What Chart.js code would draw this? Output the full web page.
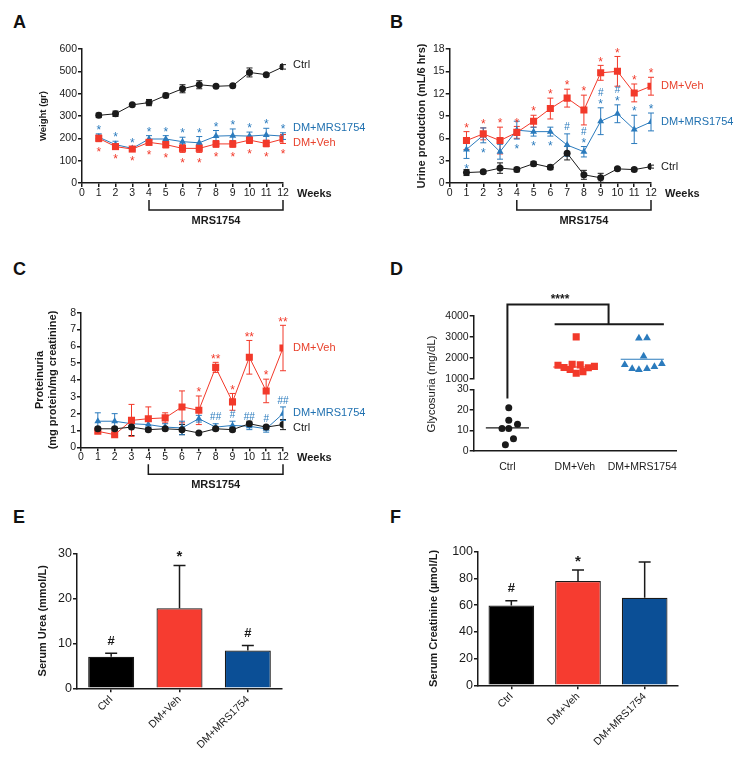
<!DOCTYPE html>
<html>
<head>
<meta charset="utf-8">
<script src="https://cdn.jsdelivr.net/npm/chart.js@4.4.1/dist/chart.umd.min.js"></script>
<style>
  body { margin: 0; background: #fff; width: 743px; height: 757px; position: relative; overflow: hidden; font-family: "Liberation Sans", Arial, sans-serif; }
  .panel { position: absolute; }
  .letter { position: absolute; font-weight: bold; font-size: 18px; line-height: 18px; color: #111; }
</style>
</head>
<body>
<div class="letter" style="left:13px;top:13px">A</div>
<div class="letter" style="left:390px;top:13px">B</div>
<div class="letter" style="left:13px;top:260px">C</div>
<div class="letter" style="left:390px;top:260px">D</div>
<div class="letter" style="left:13px;top:508px">E</div>
<div class="letter" style="left:390px;top:508px">F</div>

<div class="panel" style="left:0;top:0;width:372px;height:250px"><canvas id="chartA"></canvas></div>
<div class="panel" style="left:372px;top:0;width:371px;height:250px"><canvas id="chartB"></canvas></div>
<div class="panel" style="left:0;top:250px;width:372px;height:250px"><canvas id="chartC"></canvas></div>
<div class="panel" style="left:372px;top:250px;width:371px;height:250px"><canvas id="chartD"></canvas></div>
<div class="panel" style="left:0;top:500px;width:372px;height:257px"><canvas id="chartE"></canvas></div>
<div class="panel" style="left:372px;top:500px;width:371px;height:257px"><canvas id="chartF"></canvas></div>

<script>
// ---- data ----
const weeks = [1, 2, 3, 4, 5, 6, 7, 8, 9, 10, 11, 12];
const groups = ["Ctrl", "DM+Veh", "DM+MRS1754"];

// A: body weight (gr)
const weightCtrl = [303, 310, 350, 360, 392, 422, 440, 433, 436, 495, 485, 520];
const weightCtrlErr = [10, 12, 5, 14, 10, 18, 18, 5, 5, 20, 5, 10];
const weightVeh = [200, 163, 152, 182, 172, 155, 155, 175, 175, 192, 177, 197];
const weightVehErr = [15, 12, 8, 12, 15, 18, 18, 15, 15, 15, 15, 20];
const weightMrs = [205, 172, 155, 197, 197, 185, 180, 210, 212, 210, 215, 210];
const weightMrsErr = [15, 15, 5, 15, 15, 20, 28, 25, 30, 18, 30, 15];
const weightVehSig = ["*", "*", "*", "*", "*", "*", "*", "*", "*", "*", "*", "*"];
const weightMrsSig = ["*", "*", "*", "*", "*", "*", "*", "*", "*", "*", "*", "*"];

// B: urine production (mL/6 hrs)
const urineCtrl = [1.4, 1.5, 2.0, 1.8, 2.6, 2.1, 4.0, 1.1, 0.7, 1.9, 1.8, 2.2];
const urineCtrlErr = [0.4, 0.2, 0.7, 0.3, 0.3, 0.3, 0.9, 0.6, 0.6, 0.2, 0.2, 0.2];
const urineVeh = [5.7, 6.6, 5.7, 6.8, 8.3, 10.0, 11.4, 9.8, 14.8, 15.0, 12.1, 13.0];
const urineVehErr = [1.2, 0.8, 1.8, 0.8, 0.8, 1.4, 1.2, 2.0, 1.0, 2.0, 1.2, 1.2];
const urineMrs = [4.5, 6.4, 4.2, 7.1, 6.9, 6.9, 5.1, 4.2, 8.3, 9.3, 7.2, 8.2];
const urineMrsErr = [1.2, 1.0, 1.0, 1.2, 0.6, 0.6, 1.5, 0.7, 1.8, 1.2, 1.9, 1.2];
const urineVehSig = ["*", "*", "*", "*", "*", "*", "*", "*", "*", "*", "*", "*"];
const urineMrsSigAbove = ["", "", "", "", "", "", "#", "#\n*", "#\n*", "#\n*", "*", "*"];
const urineMrsSigBelow = ["*", "*", "", "*", "*", "*", "", "", "", "", "", ""];

// C: proteinuria (mg protein/mg creatinine)
const protCtrl = [1.1, 1.1, 1.2, 1.05, 1.1, 1.05, 0.85, 1.1, 1.05, 1.4, 1.2, 1.35];
const protCtrlErr = [0.1, 0.1, 0.5, 0.1, 0.1, 0.3, 0.05, 0.1, 0.1, 0.15, 0.1, 0.3];
const protVeh = [0.95, 0.75, 1.6, 1.7, 1.75, 2.4, 2.2, 4.75, 2.7, 5.35, 3.35, 5.9];
const protVehErr = [0.1, 0.1, 0.95, 0.7, 0.3, 0.95, 0.85, 0.3, 0.5, 1.0, 0.7, 1.35];
const protMrs = [1.55, 1.55, 1.4, 1.35, 1.2, 1.15, 1.7, 1.2, 1.3, 1.25, 1.1, 2.0];
const protMrsErr = [0.5, 0.45, 0.2, 0.2, 0.2, 0.4, 0.2, 0.2, 0.25, 0.2, 0.2, 0.4];
const protVehSig = ["", "", "", "", "", "", "*", "**", "*", "**", "*", "**"];
const protMrsSig = ["", "", "", "", "", "", "", "##", "#", "##", "#", "##"];

// D: glycosuria (mg/dL), individual animals (x = group position with jitter)
const glyCtrlX = [1.02, 1.02, 0.92, 1.02, 1.15, 1.09, 0.97];
const glyCtrl = [21, 15, 11, 11, 13, 6, 3];
const glyVehX = [1.75, 1.84, 1.93, 1.96, 2.02, 2.02, 2.08, 2.12, 2.20, 2.29];
const glyVeh = [1640, 1540, 1440, 1690, 1260, 3000, 1660, 1340, 1520, 1590];
const glyMrsX = [2.95, 3.07, 3.02, 2.74, 2.85, 2.95, 3.07, 3.18, 3.29];
const glyMrs = [2930, 2950, 2080, 1670, 1475, 1430, 1475, 1570, 1720];
const glyMedian = [11.2, 1560, 1930];

// E, F: serum urea (mmol/L) and creatinine (µmol/L)
const urea = [7.0, 17.8, 8.4];
const ureaErr = [0.8, 9.5, 1.1];
const ureaSig = ["#", "*", "#"];
const creat = [59.7, 78.0, 65.5];
const creatErr = [3.6, 8.3, 26.8];
const creatSig = ["#", "*", ""];

// ---- styles ----
const INK = "#1a1a1a";
const RED = "#f2392a";
const BLUE = "#2b7bbd";
const RED_TXT = "#e8412c";
const BLUE_TXT = "#1f70b0";
const BAR_RED = "#f63c30";
const BAR_BLUE = "#0b4f96";
const FONT = '"Liberation Sans", Arial, sans-serif';

Chart.defaults.font.family = FONT;
Chart.defaults.color = INK;
Chart.defaults.animation = false;
Chart.defaults.plugins.legend.display = false;
Chart.defaults.plugins.tooltip.enabled = false;

function drawSig(ctx, x, edge, text, dir, color, gap, sizes) {
   const lines = text.split("\n");
   const order = dir < 0 ? lines.slice().reverse() : lines;
   let y = edge + dir * gap;
   order.forEach((line) => {
      const hash = line.includes("#");
      const size = hash ? sizes[1] : sizes[0];
      ctx.font = (sizes[2] ? "bold " : "") + size + "px " + FONT;
      ctx.fillStyle = color;
      ctx.textAlign = "center";
      ctx.textBaseline = "alphabetic";
      ctx.fillText(line, x, y + (hash ? 0.36 : 0.6) * size);
      y += dir * 8.5;
   });
}

function drawErrors(chart, upOnlyPass) {
   const ctx = chart.ctx;
   chart.data.datasets.forEach((ds, di) => {
      if (!ds.errors || !!ds.errorUpOnly !== upOnlyPass) return;
      const meta = chart.getDatasetMeta(di);
      const ys = chart.scales[meta.yAxisID];
      const cap = ds.errorCap || 3;
      ctx.save();
      ctx.strokeStyle = ds.errorColor || ds.borderColor;
      ctx.lineWidth = ds.errorWidth || 1;
      meta.data.forEach((el, i) => {
         const e = ds.errors[i];
         if (!e) return;
         const v = meta.controller.getParsed(i).y;
         const x = el.x;
         const top = ys.getPixelForValue(v + e);
         const bot = ds.errorUpOnly ? ys.getPixelForValue(v) : ys.getPixelForValue(v - e);
         ctx.beginPath();
         ctx.moveTo(x, top);
         ctx.lineTo(x, bot);
         ctx.moveTo(x - cap, top);
         ctx.lineTo(x + cap, top);
         if (!ds.errorUpOnly) {
            ctx.moveTo(x - cap, bot);
            ctx.lineTo(x + cap, bot);
         }
         ctx.stroke();
      });
      ctx.restore();
   });
}

// error bars, significance marks, series labels, brackets
const panelMarks = {
   id: "panelMarks",
   beforeDatasetsDraw(chart) {
      drawErrors(chart, false);
   },
   afterDatasetsDraw(chart, args, opts) {
      const ctx = chart.ctx;
      drawErrors(chart, true);

      const sigGap = opts.sigGap || 7;
      const sigSizes = opts.sigSizes || [12, 10, false];
      chart.data.datasets.forEach((ds, di) => {
         if (!ds.sigAbove && !ds.sigBelow) return;
         const meta = chart.getDatasetMeta(di);
         const ys = chart.scales[meta.yAxisID];
         const color = ds.sigColor || ds.borderColor;
         meta.data.forEach((el, i) => {
            const v = meta.controller.getParsed(i).y;
            const e = ds.errors ? ds.errors[i] : 0;
            if (ds.sigAbove && ds.sigAbove[i]) {
               drawSig(ctx, el.x, ys.getPixelForValue(v + e), ds.sigAbove[i], -1, color, sigGap, sigSizes);
            }
            if (ds.sigBelow && ds.sigBelow[i]) {
               drawSig(ctx, el.x, ys.getPixelForValue(v - e), ds.sigBelow[i], 1, color, sigGap, sigSizes);
            }
         });
      });

      const xs = chart.scales.x;
      const yMain = chart.scales.y;
      if (opts.labels) {
         const lx = xs.getPixelForValue(xs.max) + 10;
         ctx.save();
         ctx.font = "11px " + FONT;
         ctx.textAlign = "left";
         ctx.textBaseline = "middle";
         opts.labels.forEach((l) => {
            ctx.fillStyle = l.color;
            ctx.fillText(l.text, lx, yMain.getPixelForValue(l.y));
         });
         ctx.restore();
      }

      if (opts.weeks) {
         const w = opts.weeks;
         const base = chart.chartArea.bottom;
         const x1 = xs.getPixelForValue(w.from);
         const x2 = xs.getPixelForValue(w.to);
         ctx.save();
         ctx.fillStyle = INK;
         ctx.strokeStyle = INK;
         ctx.font = "bold 11px " + FONT;
         ctx.textAlign = "left";
         ctx.textBaseline = "middle";
         ctx.fillText(w.title, xs.getPixelForValue(xs.max) + 14, base + 10.5);
         ctx.lineWidth = 1.5;
         ctx.beginPath();
         ctx.moveTo(x1, base + 17);
         ctx.lineTo(x1, base + 27);
         ctx.lineTo(x2, base + 27);
         ctx.lineTo(x2, base + 17);
         ctx.stroke();
         ctx.textAlign = "center";
         ctx.fillText(w.label, (x1 + x2) / 2, base + 38);
         ctx.restore();
      }

      if (opts.bracket) {
         const b = opts.bracket;
         const up = chart.scales.yUp;
         const low = chart.scales.y;
         const xa = xs.getPixelForValue(b.fromX);
         const xm = xs.getPixelForValue(b.midX);
         const yTop = up.getPixelForValue(b.topY);
         const yBar = up.getPixelForValue(b.barY);
         ctx.save();
         ctx.strokeStyle = INK;
         ctx.lineWidth = 2;
         ctx.beginPath();
         ctx.moveTo(xa, low.getPixelForValue(b.fromY));
         ctx.lineTo(xa, yTop);
         ctx.lineTo(xm, yTop);
         ctx.lineTo(xm, yBar);
         ctx.moveTo(xs.getPixelForValue(b.barFrom), yBar);
         ctx.lineTo(xs.getPixelForValue(b.barTo), yBar);
         ctx.stroke();
         ctx.fillStyle = INK;
         ctx.font = "bold 12px " + FONT;
         ctx.textAlign = "center";
         ctx.textBaseline = "alphabetic";
         ctx.fillText(b.text, xs.getPixelForValue(b.textX), up.getPixelForValue(b.textY) + 7);
         ctx.restore();
      }
   },
};
Chart.register(panelMarks);

function yAxis(min, max, step, width, title, titleSize, titlePad, tickSize, extra) {
   return Object.assign({
      type: "linear",
      position: "left",
      min: min,
      max: max,
      ticks: {
         stepSize: step,
         padding: 1,
         color: INK,
         autoSkip: false,
         font: { size: tickSize || 10.5 },
         callback: (v) => String(v),
      },
      grid: { drawOnChartArea: false, tickLength: 4, color: INK, lineWidth: 1.5 },
      border: { color: INK, width: 1.5 },
      title: {
         display: !!title,
         text: title,
         color: INK,
         font: { size: titleSize, weight: "bold" },
         padding: { top: titlePad, bottom: 0 },
      },
      afterFit: (s) => { s.width = width; },
   }, extra || {});
}

function weekAxis() {
   return {
      type: "linear",
      min: 0,
      max: 12,
      ticks: { stepSize: 1, padding: 0, color: INK, font: { size: 10.5 }, maxRotation: 0, autoSkip: false },
      grid: { drawOnChartArea: false, tickLength: 4, color: INK, lineWidth: 1.5 },
      border: { color: INK, width: 1.5 },
      afterFit: (s) => { s.height = 18; },
   };
}

function series(label, ys, errs, color, style, radius, extra) {
   return Object.assign({
      label: label,
      data: weeks.map((w, i) => ({ x: w, y: ys[i] })),
      errors: errs,
      borderColor: color,
      backgroundColor: color,
      borderWidth: 1,
      pointStyle: style,
      pointRadius: radius,
      pointHoverRadius: radius,
      pointBorderWidth: 0,
      tension: 0,
   }, extra || {});
}

function timeChart(id, padding, yOpts, sets, labels) {
   return new Chart(document.getElementById(id), {
      type: "line",
      data: { datasets: sets },
      options: {
         responsive: true,
         maintainAspectRatio: false,
         layout: { padding: padding },
         scales: { x: weekAxis(), y: yOpts },
         plugins: {
            panelMarks: {
               labels: labels,
               weeks: { title: "Weeks", from: 4, to: 12, label: "MRS1754" },
            },
         },
      },
   });
}

// ---- A ----
timeChart("chartA", { left: 30, right: 89, top: 49, bottom: 49 },
   yAxis(0, 600, 100, 52, "Weight (gr)", 9.5, 7.4),
   [
      series("Ctrl", weightCtrl, weightCtrlErr, INK, "circle", 3.5),
      series("DM+Veh", weightVeh, weightVehErr, RED, "rect", 5, { sigBelow: weightVehSig }),
      series("DM+MRS1754", weightMrs, weightMrsErr, BLUE, "triangle", 4, { sigAbove: weightMrsSig }),
   ],
   [
      { text: "Ctrl", color: INK, y: 528 },
      { text: "DM+MRS1754", color: BLUE_TXT, y: 246 },
      { text: "DM+Veh", color: RED_TXT, y: 178 },
   ]);

// ---- B ----
timeChart("chartB", { left: 36, right: 92, top: 49, bottom: 49 },
   yAxis(0, 18, 3, 41.7, "Urine production (mL/6 hrs)", 11, 7.4),
   [
      series("Ctrl", urineCtrl, urineCtrlErr, INK, "circle", 3.5),
      series("DM+Veh", urineVeh, urineVehErr, RED, "rect", 5, { sigAbove: urineVehSig }),
      series("DM+MRS1754", urineMrs, urineMrsErr, BLUE, "triangle", 4, { sigAbove: urineMrsSigAbove, sigBelow: urineMrsSigBelow }),
   ],
   [
      { text: "DM+Veh", color: RED_TXT, y: 13.0 },
      { text: "DM+MRS1754", color: BLUE_TXT, y: 8.2 },
      { text: "Ctrl", color: INK, y: 2.2 },
   ]);

// ---- C ----
timeChart("chartC", { left: 30, right: 89, top: 62.7, bottom: 34.7 },
   yAxis(0, 8, 1, 51, ["Proteinuria", "(mg protein/mg creatinine)"], 11, 3.4),
   [
      series("Ctrl", protCtrl, protCtrlErr, INK, "circle", 3.5),
      series("DM+Veh", protVeh, protVehErr, RED, "rect", 5, { sigAbove: protVehSig }),
      series("DM+MRS1754", protMrs, protMrsErr, BLUE, "triangle", 4, { sigAbove: protMrsSig }),
   ],
   [
      { text: "DM+Veh", color: RED_TXT, y: 5.9 },
      { text: "DM+MRS1754", color: BLUE_TXT, y: 2.04 },
      { text: "Ctrl", color: INK, y: 1.15 },
   ]);

// ---- D ----
function medianLine(center, value, color, axis) {
   return {
      data: [{ x: center - 0.32, y: value }, { x: center + 0.32, y: value }],
      showLine: true,
      borderColor: color,
      borderWidth: 1.2,
      pointRadius: 0,
      yAxisID: axis,
   };
}
function dots(xsArr, ysArr, color, style, radius, axis) {
   return {
      data: xsArr.map((x, i) => ({ x: x, y: ysArr[i] })),
      backgroundColor: color,
      borderColor: color,
      pointStyle: style,
      pointRadius: radius,
      pointHoverRadius: radius,
      pointBorderWidth: 0,
      yAxisID: axis,
   };
}
new Chart(document.getElementById("chartD"), {
   type: "scatter",
   data: {
      datasets: [
         dots(glyCtrlX, glyCtrl, INK, "circle", 3.5, "y"),
         dots(glyVehX, glyVeh, RED, "rect", 5, "yUp"),
         dots(glyMrsX, glyMrs, BLUE, "triangle", 4.5, "yUp"),
         medianLine(1, glyMedian[0], INK, "y"),
         medianLine(2, glyMedian[1], RED, "yUp"),
         medianLine(3, glyMedian[2], BLUE, "yUp"),
      ],
   },
   options: {
      responsive: true,
      maintainAspectRatio: false,
      layout: { padding: { left: 50, right: 67, top: 66, bottom: 25 } },
      scales: {
         x: {
            type: "linear",
            min: 0.5,
            max: 3.5,
            afterBuildTicks: (s) => { s.ticks = groups.map((g, i) => ({ value: i + 1 })); },
            ticks: {
               padding: 9.7,
               color: INK,
               font: { size: 10.5 },
               maxRotation: 0,
               autoSkip: false,
               callback: (v) => groups[Math.round(v) - 1] || "",
            },
            grid: { drawOnChartArea: false, drawTicks: false },
            border: { color: INK, width: 1.5 },
            afterFit: (s) => { s.height = 24; },
         },
         y: yAxis(0, 30, 10, 51.7, "", 11, 0, 10.5, { stack: "gly", stackWeight: 61.7 }),
         yGap: {
            type: "linear",
            position: "left",
            stack: "gly",
            stackWeight: 10.6,
            ticks: { display: false },
            grid: { display: false },
            border: { display: false },
            title: {
               display: true,
               text: "Glycosuria (mg/dL)",
               color: INK,
               font: { size: 11.5 },
               padding: { top: 3.4, bottom: 0 },
            },
            afterFit: (s) => { s.width = 51.7; },
         },
         yUp: yAxis(1000, 4000, 1000, 51.7, "", 11, 0, 10.5, { stack: "gly", stackWeight: 62.7 }),
      },
      plugins: {
         panelMarks: {
            bracket: {
               fromX: 1, fromY: 25.5, topY: 4550, midX: 2.5, barY: 3600,
               barFrom: 1.7, barTo: 3.32, text: "****", textX: 1.78, textY: 4950,
            },
         },
      },
   },
});

// ---- E, F ----
function barChart(id, padding, yOpts, values, errs, sig, barPct) {
   return new Chart(document.getElementById(id), {
      type: "bar",
      data: {
         labels: groups,
         datasets: [{
            data: values,
            errors: errs,
            errorUpOnly: true,
            errorCap: 6,
            errorWidth: 1.5,
            errorColor: INK,
            sigAbove: sig,
            sigColor: INK,
            backgroundColor: ["#000000", BAR_RED, BAR_BLUE],
            borderColor: INK,
            borderWidth: 1.2,
            barPercentage: barPct,
            categoryPercentage: 1,
         }],
      },
      options: {
         responsive: true,
         maintainAspectRatio: false,
         layout: { padding: padding },
         scales: {
            x: {
               ticks: { color: INK, font: { size: 10.5 }, minRotation: 45, maxRotation: 45, padding: 1, autoSkip: false },
               grid: { drawOnChartArea: false, offset: false, tickLength: 4, color: INK, lineWidth: 1.5 },
               border: { color: INK, width: 1.5 },
               afterFit: (s) => { s.height = 60; },
            },
            y: yOpts,
         },
         plugins: { panelMarks: { sigGap: 13, sigSizes: [15, 13, true] } },
      },
   });
}

barChart("chartE", { left: 25, right: 90, top: 53.3, bottom: 8.7 },
   yAxis(0, 30, 10, 52, "Serum Urea (mmol/L)", 11, 11.1, 12.5),
   urea, ureaErr, ureaSig, 0.673);

barChart("chartF", { left: 50, right: 65, top: 51.7, bottom: 11.7 },
   yAxis(0, 100, 20, 56, "Serum Creatinine (µmol/L)", 11, 5.1, 12.5),
   creat, creatErr, creatSig, 0.685);
</script>
</body>
</html>
